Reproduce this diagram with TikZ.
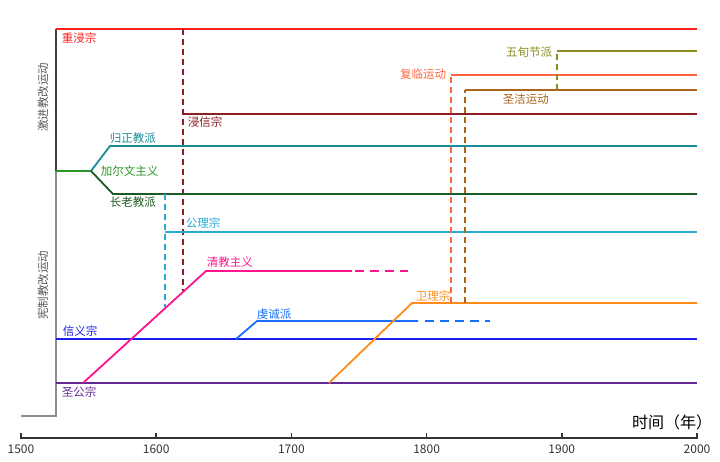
\documentclass[tikz,border=0pt]{standalone}
\usepackage{fontspec}
\setmainfont{Noto Sans CJK SC}
\usetikzlibrary{positioning}

\definecolor{chongjin}{RGB}{255,30,30}
\definecolor{jinxin}{RGB}{140,30,35}
\definecolor{guizheng}{RGB}{25,140,150}
\definecolor{jiaerwen}{RGB}{40,150,40}
\definecolor{zhanglao}{RGB}{30,90,35}
\definecolor{gongli}{RGB}{40,170,210}
\definecolor{qingjiao}{RGB}{255,20,140}
\definecolor{qiancheng}{RGB}{25,110,255}
\definecolor{xinyi}{RGB}{30,30,235}
\definecolor{shenggong}{RGB}{100,40,150}
\definecolor{weili}{RGB}{255,140,25}
\definecolor{fulin}{RGB}{255,100,60}
\definecolor{shengjie}{RGB}{170,100,30}
\definecolor{wuxun}{RGB}{140,140,30}

\begin{document}
\begin{tikzpicture}[x=1pt,y=-1pt,line width=1.8pt,
  lbl/.style={inner sep=0pt,anchor=west,font=\fontsize{11.5}{13}\selectfont},
  side/.style={inner sep=0pt,rotate=90,text=black!65,font=\fontsize{11.5}{13}\selectfont},
  split/.style={dash pattern=on 6pt off 4pt},
  fade/.style={dash pattern=on 8.5pt off 6.5pt}]
  \useasboundingbox (0,0) rectangle (720,461);

  % movement brackets
  \draw[black!75] (56,29) -- (56,171);
  \draw[black!45] (56,171) -- (56,416) -- (21,416);
  \node[side] (jijin) at (43,97) {激进教改运动};
  \node[side] (xianzhi) at (43,285) {宪制教改运动};

  % radical branches
  \draw[chongjin] (56,29) -- (697,29);
  \node[lbl,text=chongjin] (chongjinlbl) at (61,38) {重浸宗};
  \coordinate (jinxin) at (183,114);
  \draw[jinxin,split] (183,29) -- (183,292);
  \draw[jinxin] (jinxin) -- (697,114);
  \node[lbl,text=jinxin] (jinxinlbl) at (187,122) {浸信宗};

  % calvinism splits
  \coordinate (cal) at (91,171);
  \draw[jiaerwen] (56,171) -- (cal);
  \draw[guizheng] (cal) -- (110,146) -- (697,146);
  \draw[zhanglao] (cal) -- (113,194) -- (697,194);
  \node[lbl,text=jiaerwen] (jiaerwenlbl) at (100,171) {加尔文主义};
  \node[lbl,text=guizheng] (guizhenglbl) at (109,138) {归正教派};
  \node[lbl,text=zhanglao] (zhanglaolbl) at (109,202) {长老教派};

  \coordinate (gongli) at (165,232);
  \draw[gongli,split] (165,194) -- (165,307);
  \draw[gongli] (gongli) -- (697,232);
  \node[lbl,text=gongli] (gonglilbl) at (185,223) {公理宗};

  % magisterial branches
  \draw[xinyi] (56,339) -- (697,339);
  \node[lbl,text=xinyi] (xinyilbl) at (62,331) {信义宗};
  \draw[shenggong] (56,383) -- (697,383);
  \node[lbl,text=shenggong] (shenggonglbl) at (61,392) {圣公宗};

  \draw[qingjiao] (83,383) -- (206,271) -- (352,271);
  \draw[qingjiao,fade] (355,271) -- (408,271);
  \node[lbl,text=qingjiao] (qingjiaolbl) at (206,262) {清教主义};

  \draw[qiancheng] (236,339) -- (257,321) -- (418,321);
  \draw[qiancheng,fade] (425,321) -- (490,321);
  \node[lbl,text=qiancheng] (qianchenglbl) at (256,314) {虔诚派};

  \draw[weili] (329,383) -- (412,303) -- (697,303);
  \node[lbl,text=weili] (weililbl) at (415,296) {卫理宗};

  % later movements
  \draw[fulin,split] (451,303) -- (451,75);
  \draw[fulin] (451,75) -- (697,75);
  \node[lbl,text=fulin,anchor=east] (fulinlbl) at (447,74) {复临运动};
  \draw[shengjie,split] (465,303) -- (465,90);
  \draw[shengjie] (465,90) -- (697,90);
  \node[lbl,text=shengjie] (shengjielbl) at (502,99) {圣洁运动};
  \draw[wuxun,split] (557,90) -- (557,51);
  \draw[wuxun] (557,51) -- (697,51);
  \node[lbl,text=wuxun,anchor=east] (wuxunlbl) at (553,52) {五旬节派};

  % time axis
  \draw[black!80,line width=1.5pt] (21,438) -- (697,438);
  \foreach \i in {0,...,5}{
    \pgfmathtruncatemacro\yr{1500+100*\i}
    \draw[black!80,line width=1.5pt] (21+135.2*\i,439) -- (21+135.2*\i,433);
    \node[inner sep=0pt,font=\fontsize{12}{14}\selectfont,text=black!80] at (21+135.2*\i,449) {\yr};
  }
  \node[inner sep=0pt,anchor=east,font=\fontsize{16}{18}\selectfont] (zhou) at (713,422) {时间（年）};
\end{tikzpicture}
\end{document}
